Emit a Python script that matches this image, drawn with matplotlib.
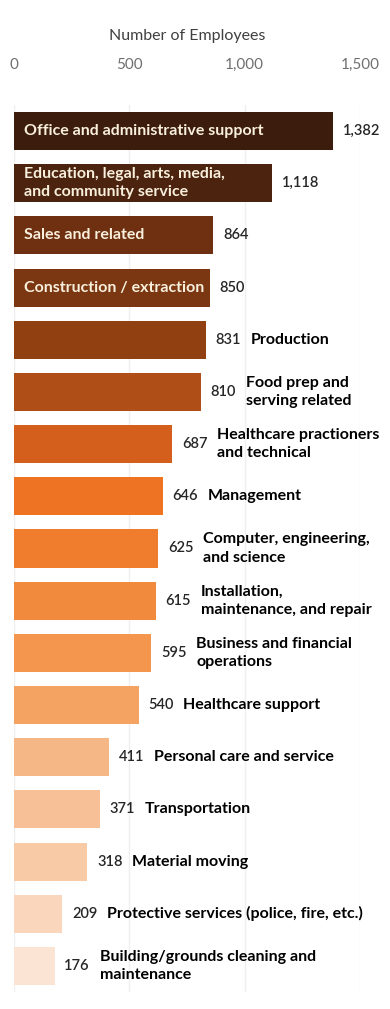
import matplotlib
matplotlib.use("Agg")
import matplotlib.pyplot as plt
from matplotlib.ticker import FuncFormatter

# --- DATA ---
categories = [
    "Office and administrative support",
    "Education, legal, arts, media,\nand community service",
    "Sales and related",
    "Construction / extraction",
    "Production",
    "Food prep and\nserving related",
    "Healthcare practioners\nand technical",
    "Management",
    "Computer, engineering,\nand science",
    "Installation,\nmaintenance, and repair",
    "Business and financial\noperations",
    "Healthcare support",
    "Personal care and service",
    "Transportation",
    "Material moving",
    "Protective services (police, fire, etc.)",
    "Building/grounds cleaning and\nmaintenance",
]
employees = [1382, 1118, 864, 850, 831, 810, 687, 646, 625, 615, 595, 540, 411, 371, 318, 209, 176]
label_inside = [True, True, True, True] + [False] * 13
colors = [
    "#3c1c0c", "#4b230e", "#6e3010", "#7a3712", "#914012", "#af4e16",
    "#d45f1c", "#ee7323", "#f07d2d", "#f28a3e", "#f4964e", "#f5a362",
    "#f6b787", "#f7c096", "#f8caa6", "#fad6bc", "#fce4d4",
]
x_ticks = [0, 500, 1000, 1500]

plt.rcParams['font.family'] = ['Lato', 'DejaVu Sans']

fig = plt.figure(figsize=(3.9, 10.09), dpi=100)
ax = fig.add_axes([14 / 390, 1 - 992 / 1009, (360 - 14) / 390, (992 - 105) / 1009])

ypos = list(range(len(categories)))
bars = ax.barh(ypos, employees, height=0.73, color=colors, zorder=2)

ax.set_xlim(0, 1500)
ax.set_ylim(len(categories) - 0.5, -0.5)
ax.set_yticks([])
ax.set_xticks(x_ticks)
ax.xaxis.set_major_formatter(FuncFormatter(lambda v, p: f"{int(v):,}"))
ax.xaxis.tick_top()
ax.xaxis.set_label_position("top")
ax.tick_params(axis="x", length=0, pad=24, labelsize=11, labelcolor="#6f6f6f")
ax.set_xlabel("Number of Employees", fontsize=11.5, color="#404040", labelpad=13)
for s in ax.spines.values():
    s.set_visible(False)
ax.grid(axis="x", color="#efefef", lw=1, zorder=0)

for bar, val, cat, inside in zip(bars, employees, categories, label_inside):
    y = bar.get_y() + bar.get_height() / 2
    vtxt = ax.annotate(f"{val:,}", xy=(val, y), xytext=(7, 0), textcoords="offset points",
                       ha="left", va="center", fontsize=10.5, color="#262626",
                       fontweight="semibold")
    if inside:
        ax.annotate(cat, xy=(0, y), xytext=(7, 0), textcoords="offset points",
                    ha="left", va="center", fontsize=11.5, color="#f8efdc",
                    fontweight="bold", linespacing=1.4)
    else:
        ax.annotate(cat, xy=(1, 0.5), xycoords=vtxt, xytext=(7, 0),
                    textcoords="offset points", ha="left", va="center",
                    fontsize=11.5, color="black", fontweight="bold", linespacing=1.4)

fig.savefig("out.png", dpi=100, facecolor="white")
